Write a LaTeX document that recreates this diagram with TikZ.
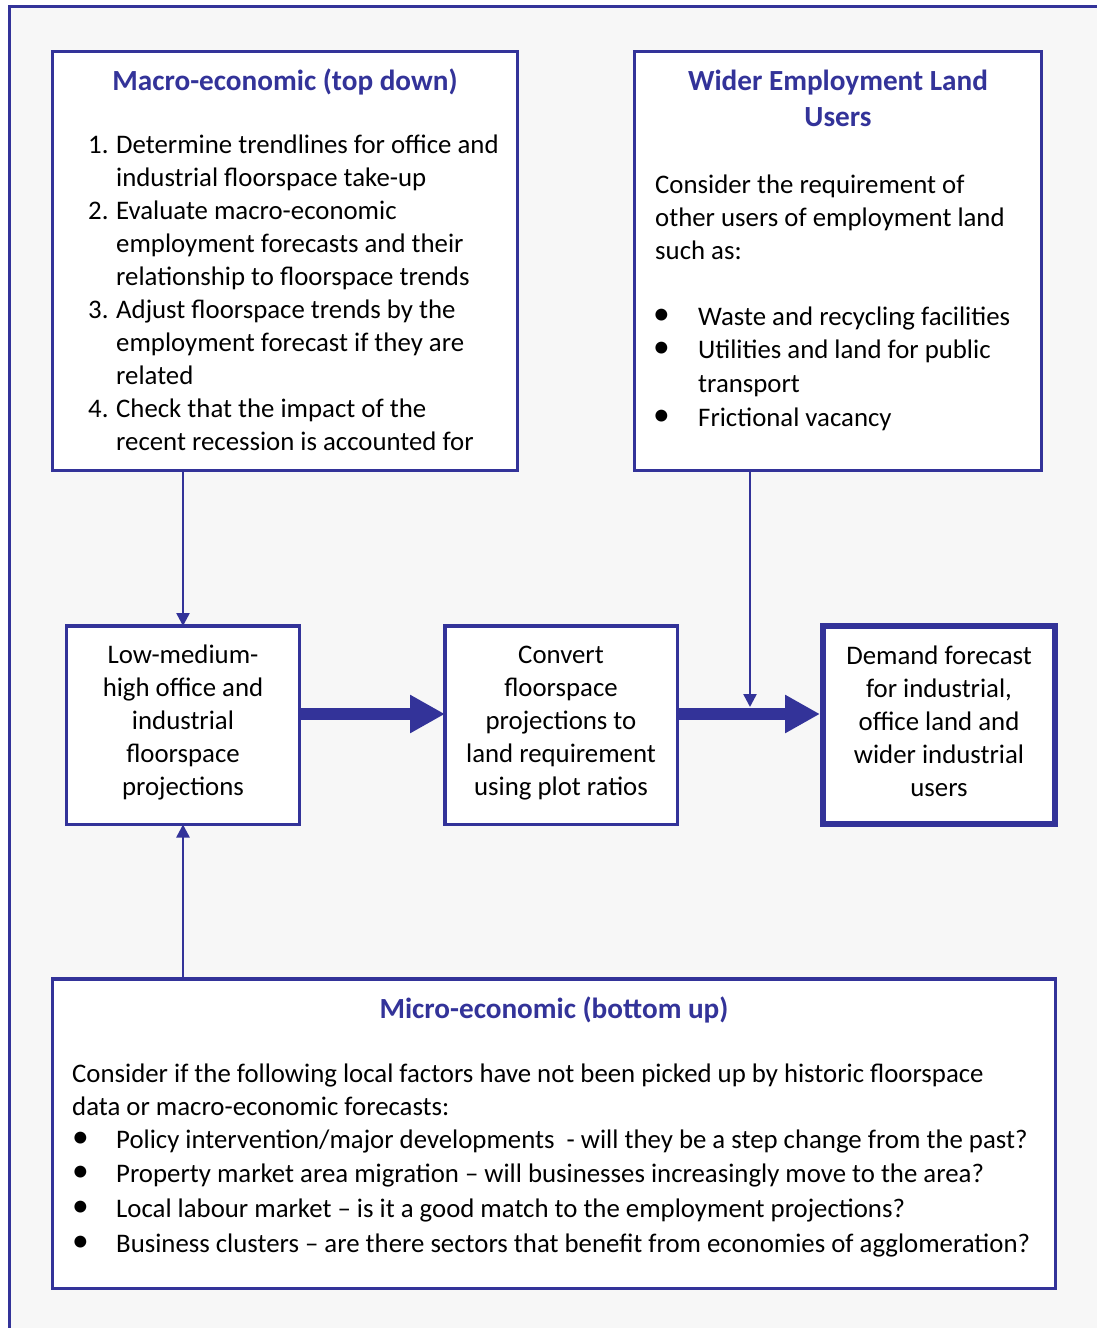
\documentclass[tikz,border=0pt]{standalone}
\usepackage{fontspec}
\setmainfont{Carlito}
\usetikzlibrary{arrows.meta}
\definecolor{frameblue}{RGB}{51,51,153}
\definecolor{bggrey}{RGB}{247,247,247}
\tikzset{
  box/.style={draw=frameblue, line width=3.5pt, fill=white},
  bigbox/.style={draw=frameblue, line width=6pt, fill=white},
  txt/.style={inner sep=0pt, font=\fs},
  ttl/.style={inner sep=0pt, font=\tfs\bfseries, text=frameblue},
  thin/.style={draw=frameblue, line width=2.5pt, -{Triangle[width=13pt,length=13pt]}},
  thick/.style={draw=frameblue, line width=12pt, -{Triangle[width=36pt,length=35pt]}},
}
\newcommand{\fs}{\fontsize{26.8}{33}\selectfont}
\newcommand{\tfs}{\fontsize{29.2}{36}\selectfont}
\newcommand{\bul}{\raisebox{1pt}{\scalebox{1.25}{\textbullet}}}
\begin{document}
\begin{tikzpicture}[x=1pt,y=-1pt]
\useasboundingbox (0,0) rectangle (1097,1328);
\clip (0,0) rectangle (1097,1328);
\draw[draw=frameblue, line width=3pt, fill=bggrey] (9,6.5) rectangle (1120,1350);

% boxes
\draw[box] (52.5,51.5) rectangle (517.5,470.5);
\coordinate (macroB) at (183,470.5);
\draw[box] (634.5,51.5) rectangle (1041.5,470.5);
\coordinate (widerB) at (750,470.5);
\draw[box] (66.5,626) rectangle (299.5,824.5);
\coordinate (lowT) at (183,626);
\coordinate (lowB) at (183,824.5);
\coordinate (lowE) at (299.5,714);
\draw[box] (445,626) rectangle (677.5,824.5);
\coordinate (convW) at (445,714);
\coordinate (convE) at (677.5,714);
\draw[bigbox] (823,626) rectangle (1055,823.5);
\coordinate (demW) at (820,714);
\coordinate (joinP) at (750,707);
\draw[box] (52.5,979) rectangle (1055.5,1288.5);
\coordinate (microT) at (183,979);

% connectors
\draw[thin] (macroB) -- (lowT);
\draw[thin] (microT) -- (lowB);
\draw[thick] (lowE) -- (convW);
\draw[thick] (convE) -- (demW);
\draw[thin] (widerB) -- (joinP);

% macro box text
\node[ttl, anchor=base] (macroTitle) at (285,90) {Macro-economic (top down)};
\node[txt, anchor=base west] (macroList) at (88,153) {\parbox[t]{440pt}{\fs\baselineskip=33pt
\makebox[28pt][l]{1.}Determine trendlines for office and\\
\hspace*{28pt}industrial floorspace take-up\\
\makebox[28pt][l]{2.}Evaluate macro-economic\\
\hspace*{28pt}employment forecasts and their\\
\hspace*{28pt}relationship to floorspace trends\\
\makebox[28pt][l]{3.}Adjust floorspace trends by the\\
\hspace*{28pt}employment forecast if they are\\
\hspace*{28pt}related\\
\makebox[28pt][l]{4.}Check that the impact of the\\
\hspace*{28pt}recent recession is accounted for}};

% wider box text
\node[ttl, anchor=base] (widerTitle) at (838,90) {\parbox[t]{400pt}{\centering\tfs\bfseries\baselineskip=36pt Wider Employment Land\\Users}};
\node[txt, anchor=base west] (widerIntro) at (655,193) {\parbox[t]{390pt}{\fs\baselineskip=33pt
Consider the requirement of\\other users of employment land\\such as:}};
\node[txt, anchor=base west] (widerList) at (653,325) {\parbox[t]{390pt}{\fs\baselineskip=33.7pt
\makebox[45pt][l]{\bul}Waste and recycling facilities\\
\makebox[45pt][l]{\bul}Utilities and land for public\\
\hspace*{45pt}transport\\
\makebox[45pt][l]{\bul}Frictional vacancy}};

% middle boxes text
\node[txt, anchor=base] (lowText) at (183,663) {\parbox[t]{230pt}{\centering\fs\baselineskip=33pt
Low-medium-\\high office and\\industrial\\floorspace\\projections}};
\node[txt, anchor=base] (convText) at (561,663) {\parbox[t]{230pt}{\centering\fs\baselineskip=33pt
Convert\\floorspace\\projections to\\land requirement\\using plot ratios}};
\node[txt, anchor=base] (demText) at (939,664) {\parbox[t]{230pt}{\centering\fs\baselineskip=33pt
Demand forecast\\for industrial,\\office land and\\wider industrial\\users}};

% micro box text
\node[ttl, anchor=base] (microTitle) at (554,1018) {Micro-economic (bottom up)};
\node[txt, anchor=base west] (microIntro) at (72,1082) {\parbox[t]{980pt}{\fs\baselineskip=33pt
Consider if the following local factors have not been picked up by historic floorspace\\data or macro-economic forecasts:}};
\node[txt, anchor=base west] (microList) at (72,1148) {\parbox[t]{1000pt}{\fs\baselineskip=34.7pt
\makebox[44pt][l]{\bul}Policy intervention/major developments~ - will they be a step change from the past?\\
\makebox[44pt][l]{\bul}Property market area migration -- will businesses increasingly move to the area?\\
\makebox[44pt][l]{\bul}Local labour market -- is it a good match to the employment projections?\\
\makebox[44pt][l]{\bul}Business clusters -- are there sectors that benefit from economies of agglomeration?}};
\end{tikzpicture}
\end{document}
